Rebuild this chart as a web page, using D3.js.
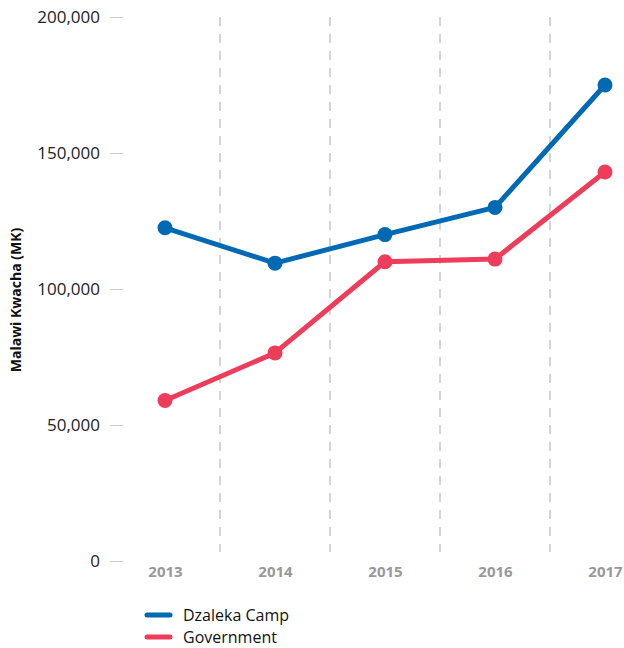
<!DOCTYPE html>
<html><head><meta charset="utf-8">
<script src="https://cdn.jsdelivr.net/npm/d3@7"></script>
<style>body{margin:0;background:#fff;font-family:"Open Sans",sans-serif;}</style>
</head><body><svg id="c" width="624" height="648"></svg>
<script>
const years = ["2013","2014","2015","2016","2017"];
const dzaleka = [122500, 109500, 120000, 130000, 175000];
const government = [59000, 76500, 110000, 111000, 143000];
const yTicks = [0, 50000, 100000, 150000, 200000];
const seriesNames = ["Dzaleka Camp", "Government"];
const colors = ["#0069b4", "#ee3d5a"];
const FONT = "'Open Sans',sans-serif";

const svg = d3.select("#c");
const x = d3.scalePoint().domain(years).range([165, 605]);
const y = d3.scaleLinear().domain([0, 200000]).range([561, 17]);
const step = x.step();

// dashed dividers
const divs = years.slice(0, -1).map(d => x(d) + step / 2);
svg.selectAll(".div").data(divs).enter().append("line")
  .attr("x1", d => d).attr("x2", d => d).attr("y1", 17).attr("y2", 552)
  .attr("stroke", "#aaa").attr("stroke-width", 1).attr("stroke-dasharray", "9,8");

// y axis
const yAxis = d3.axisLeft(y).tickValues(yTicks).tickSize(13).tickPadding(10)
  .tickFormat(d3.format(","));
const ya = svg.append("g").attr("transform", "translate(123,0)").call(yAxis);
ya.select(".domain").remove();
ya.selectAll(".tick line").attr("stroke", "#ccc");
ya.selectAll(".tick text").attr("fill", "#222").style("font-size", "17px").style("font-family", FONT);

// x axis
const xAxis = d3.axisBottom(x).tickSize(0).tickPadding(0);
const xa = svg.append("g").attr("transform", "translate(0,566)").call(xAxis);
xa.select(".domain").remove();
xa.selectAll(".tick text").attr("fill", "#999").attr("dy", "0.71em").style("font-size", "15px").style("font-weight", "bold").style("font-family", FONT);

// y title
svg.append("text").attr("transform", "translate(21,300) rotate(-90)")
  .attr("text-anchor", "middle").style("font-size", "14px").style("font-weight", "bold")
  .style("font-family", FONT).attr("fill", "#111").text("Malawi Kwacha (MK)");

const data = [dzaleka, government];
const line = d3.line().x((d, i) => x(years[i])).y(d => y(d));
data.forEach((s, k) => {
  svg.append("path").datum(s).attr("d", line).attr("fill", "none")
    .attr("stroke", colors[k]).attr("stroke-width", 5).attr("stroke-linejoin", "round");
  svg.selectAll(".dot" + k).data(s).enter().append("circle")
    .attr("cx", (d, i) => x(years[i])).attr("cy", d => y(d)).attr("r", 7.5)
    .attr("fill", colors[k]);
});

// legend
const lg = svg.append("g").attr("transform", "translate(147,615)");
seriesNames.forEach((n, k) => {
  const g = lg.append("g").attr("transform", `translate(0,${k * 22})`);
  g.append("line").attr("x1", 0).attr("x2", 23).attr("stroke", colors[k])
    .attr("stroke-width", 5).attr("stroke-linecap", "round");
  g.append("text").attr("x", 36).attr("dy", "0.35em").style("font-size", "16px")
    .style("font-family", FONT).attr("fill", "#111").text(n);
});
</script></body></html>
